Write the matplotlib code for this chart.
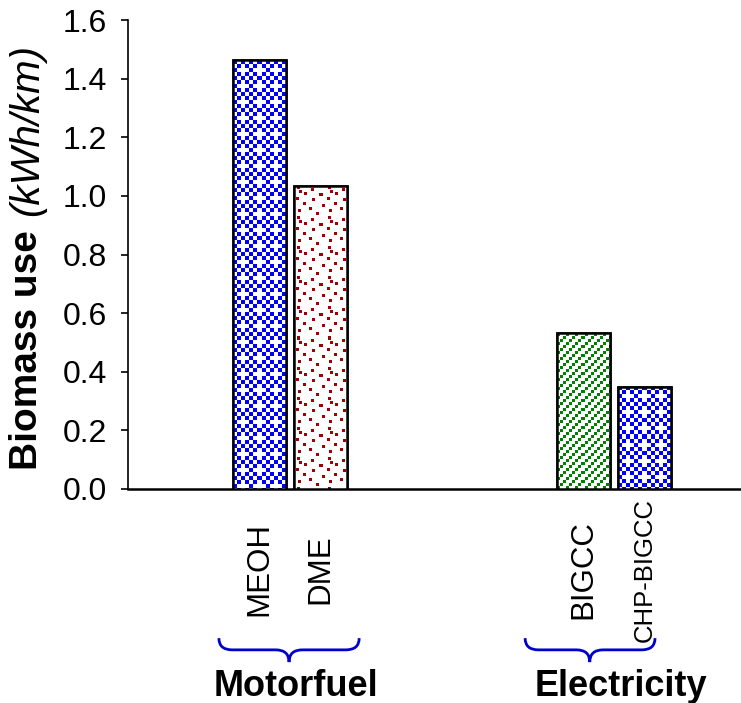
import numpy as np
import matplotlib.pyplot as plt
from matplotlib.path import Path
from matplotlib.patches import PathPatch
import matplotlib.transforms as mtransforms

plt.rcParams['font.family'] = ['Liberation Sans', 'DejaVu Sans']

# biomass use per km, kWh/km
fuels = ['MEOH', 'DME', 'BIGCC', 'CHP-BIGCC']
biomass_use = [1.463, 1.034, 0.532, 0.348]
groups = ['Motorfuel', 'Electricity']
yticks = [0.0, 0.2, 0.4, 0.6, 0.8, 1.0, 1.2, 1.4, 1.6]

W, H = 741, 703
fig = plt.figure(figsize=(W / 100, H / 100), dpi=100)
ax = fig.add_axes([128 / W, 214 / H, 613 / W, 469 / H])

xpos = [2.156, 3.156, 7.467, 8.467]
bw = 0.87


# --- fill textures (pixel tiles) ---
def checker_tile():
    cells = np.array([[1, 0, 1, 0],
                      [0, 1, 0, 1],
                      [1, 0, 0, 0],
                      [0, 1, 0, 1]])
    return np.kron(cells, np.ones((4, 4)))


def diag_tile():
    i, j = np.mgrid[0:9, 0:9]
    return (((i // 3) + (j // 3)) % 3 == 0).astype(float)


def dots_tile():
    t = np.zeros((30, 30))
    for r, c in [(1, 3), (3, 17), (7, 10), (8, 25), (12, 2), (13, 18),
                 (17, 9), (19, 27), (22, 15), (24, 4), (27, 22), (5, 5)]:
        t[r:r + 3, c:c + 3] = 1
    return t


blue = (0.0, 0.0, 1.0)
red = (0.63, 0.0, 0.0)
green = (0.0, 0.5, 0.0)
fills = [(checker_tile(), blue), (dots_tile(), red),
         (diag_tile(), green), (checker_tile(), blue)]

ax.set_xlim(0, 613 / 61)
ax.set_ylim(0, 1.6)

bars = ax.bar(xpos, biomass_use, width=bw, facecolor='white',
              edgecolor='black', linewidth=1.8, zorder=2)

for bar, (tile, col) in zip(bars, fills):
    bb = bar.get_window_extent()
    w, h = int(round(bb.width)), int(round(bb.height))
    reps = (h // tile.shape[0] + 2, w // tile.shape[1] + 2)
    mask = np.tile(tile, reps)[:h, :w]
    img = np.ones((h, w, 3))
    img[mask > 0] = col
    x0 = bar.get_x()
    im = ax.imshow(img, extent=(x0, x0 + bar.get_width(), 0, bar.get_height()),
                   interpolation='nearest', aspect='auto', zorder=3)
    im.set_clip_path(bar)

# outlines on top of the textures
ax.bar(xpos, biomass_use, width=bw, facecolor='none',
       edgecolor='black', linewidth=1.8, zorder=4)

ax.set_xlim(0, 613 / 61)
ax.set_ylim(0, 1.6)
ax.set_yticks(yticks)
ax.set_yticklabels([f'{v:.1f}' for v in yticks], fontsize=23)
ax.tick_params(axis='y', direction='out', length=5, width=1.2, pad=10)
ax.set_xticks(xpos)
ax.set_xticklabels(fuels, rotation=90, fontsize=22.5)
for lab in ax.get_xticklabels():
    lab.set_verticalalignment('center')
    if len(lab.get_text()) > 6:
        lab.set_fontsize(18.5)
ax.tick_params(axis='x', length=0, pad=58)
for s in ['top', 'right']:
    ax.spines[s].set_visible(False)
ax.spines['left'].set_linewidth(1.2)
ax.spines['bottom'].set_linewidth(1.8)

# group braces under the fuel labels
trans = mtransforms.blended_transform_factory(ax.transData, ax.transAxes)


def brace(x0, x1, xc, yt=-0.318, ym=-0.343, ytip=-0.369, r=0.22):
    verts = [(x0, yt), (x0, ym), (x0 + r, ym),
             (xc - r, ym), (xc, ym), (xc, ytip),
             (xc, ym), (xc + r, ym),
             (x1 - r, ym), (x1, ym), (x1, yt)]
    codes = [Path.MOVETO, Path.CURVE3, Path.CURVE3,
             Path.LINETO, Path.CURVE3, Path.CURVE3,
             Path.CURVE3, Path.CURVE3,
             Path.LINETO, Path.CURVE3, Path.CURVE3]
    ax.add_patch(PathPatch(Path(verts, codes), facecolor='none',
                           edgecolor='#0000CC', linewidth=2,
                           transform=trans, clip_on=False))


brace(1.49, 3.79, 2.64)
brace(6.51, 8.64, 7.57)

for name, xc in zip(groups, [2.75, 8.08]):
    ax.text(xc, -0.422, name, transform=trans, ha='center', va='center',
            fontsize=26, fontweight='bold')

# y label: bold quantity followed by italic unit
t1 = fig.text(27 / W, (H - 470) / H, 'Biomass use', rotation=90,
              ha='center', va='bottom', fontsize=28, fontweight='bold')
fig.canvas.draw()
bb = t1.get_window_extent()
fig.text(27 / W, (bb.y1 + 14) / H, '(kWh/km)', rotation=90,
         ha='center', va='bottom', fontsize=29, fontstyle='italic')

fig.savefig('out.png', dpi=100)
